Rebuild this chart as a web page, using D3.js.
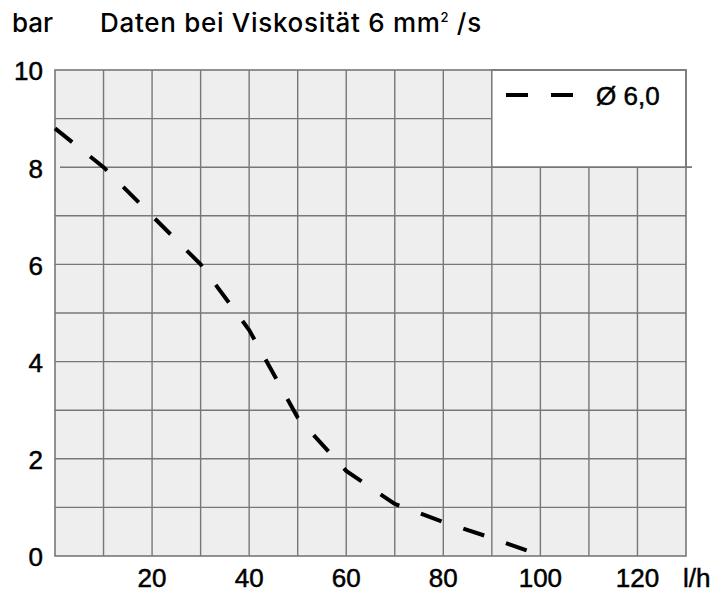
<!DOCTYPE html>
<html>
<head>
<meta charset="utf-8">
<script src="https://cdn.jsdelivr.net/npm/d3@7"></script>
<style>
  body { margin: 0; background: #fff; }
  text { font-family: "Liberation Sans", Arial, sans-serif; fill: #000; stroke: #000; stroke-width: 0.5px; }
  text.word { font-family: Inter, "Liberation Sans", sans-serif; font-weight: 500; stroke: none; }
</style>
</head>
<body>
<div id="chart"></div>
<script>
// flow (l/h) vs pressure (bar)
var flow = [0, 10, 20, 30, 40, 50, 60, 70, 80, 90, 99.5];
var pressure = [8.8, 8.0, 7.0, 6.0, 4.65, 2.85, 1.75, 1.07, 0.7, 0.37, 0.03];
var xTicks = [20, 40, 60, 80, 100, 120];
var yTicks = [0, 2, 4, 6, 8, 10];
var legendLabel = "Ø 6,0";

var W = 727, H = 593;
var pLeft = 55, pRight = 686, pTop = 70, pBottom = 556;

var svg = d3.select("#chart").append("svg")
  .attr("width", W)
  .attr("height", H);

var x = d3.scaleLinear().domain([0, 130]).range([pLeft, pRight]);
var y = d3.scaleLinear().domain([0, 10]).range([pBottom, pTop]);

// plot background
svg.append("rect")
  .attr("x", pLeft).attr("y", pTop)
  .attr("width", pRight - pLeft).attr("height", pBottom - pTop)
  .style("fill", "#eeeeee");

var grid = svg.append("g")
  .style("stroke", "#777")
  .style("stroke-width", 1.4);

// vertical grid lines every 10 l/h
grid.selectAll(".vg")
  .data(d3.range(10, 130, 10))
  .enter().append("line")
  .attr("x1", function (d) { return x(d); })
  .attr("x2", function (d) { return x(d); })
  .attr("y1", y(0))
  .attr("y2", y(10));

// horizontal grid lines every 1 bar
grid.selectAll(".hg")
  .data(d3.range(1, 10, 1))
  .enter().append("line")
  .attr("x1", function (d) { return d == 8 ? x(0) + 5 : x(0); })
  .attr("x2", function (d) { return d == 8 ? x(130) + 6 : x(130); })
  .attr("y1", function (d) { return y(d); })
  .attr("y2", function (d) { return y(d); });

// legend box (covers the upper right cells)
svg.append("rect")
  .attr("x", x(90)).attr("y", y(10))
  .attr("width", x(130) - x(90)).attr("height", y(8) - y(10))
  .style("fill", "#fff")
  .style("stroke", "#777")
  .style("stroke-width", 1.4);

svg.append("line")
  .attr("x1", x(90)).attr("x2", x(130) + 6)
  .attr("y1", y(8)).attr("y2", y(8))
  .style("stroke", "#777")
  .style("stroke-width", 1.4);

// outer frame
svg.append("rect")
  .attr("x", pLeft).attr("y", pTop)
  .attr("width", pRight - pLeft).attr("height", pBottom - pTop)
  .style("fill", "none")
  .style("stroke", "#777")
  .style("stroke-width", 1.6);

// curve
var line = d3.line()
  .x(function (d, i) { return x(flow[i]); })
  .y(function (d) { return y(d); });

svg.append("path")
  .datum(pressure)
  .attr("d", line)
  .style("fill", "none")
  .style("stroke", "#000")
  .style("stroke-width", 4)
  .style("stroke-dasharray", "22,23");

// legend entry
svg.append("line")
  .attr("x1", 506).attr("x2", 574)
  .attr("y1", 95).attr("y2", 95)
  .style("stroke", "#000")
  .style("stroke-width", 4)
  .style("stroke-dasharray", "22,23");

svg.append("text")
  .attr("x", 596).attr("y", 105)
  .style("font-size", "26px")
  .text(legendLabel);

// tick labels (no axis lines, only text)
svg.selectAll(".xt")
  .data(xTicks)
  .enter().append("text")
  .attr("x", function (d) { return x(d); })
  .attr("y", 587)
  .style("text-anchor", "middle")
  .style("font-size", "26px")
  .text(function (d) { return d; });

svg.append("text")
  .attr("x", 683).attr("y", 587)
  .style("font-size", "26px")
  .text("l/h");

svg.selectAll(".yt")
  .data(yTicks)
  .enter().append("text")
  .attr("x", 43)
  .attr("y", function (d) { return y(d); })
  .attr("dy", "0.4em")
  .style("text-anchor", "end")
  .style("font-size", "26px")
  .text(function (d) { return d; });

// title
svg.append("text")
  .attr("class", "word")
  .attr("x", 12).attr("y", 32)
  .style("font-size", "26px")
  .text("bar");

var title = svg.append("text")
  .attr("class", "word")
  .attr("x", 100).attr("y", 32)
  .style("font-size", "26px")
  .style("letter-spacing", "0.7px");
title.append("tspan").text("Daten bei Viskosität 6 mm");
title.append("tspan").attr("dy", -10).style("font-size", "13px").text("2");
title.append("tspan").attr("dy", 10).text(" /s");
</script>
</body>
</html>
